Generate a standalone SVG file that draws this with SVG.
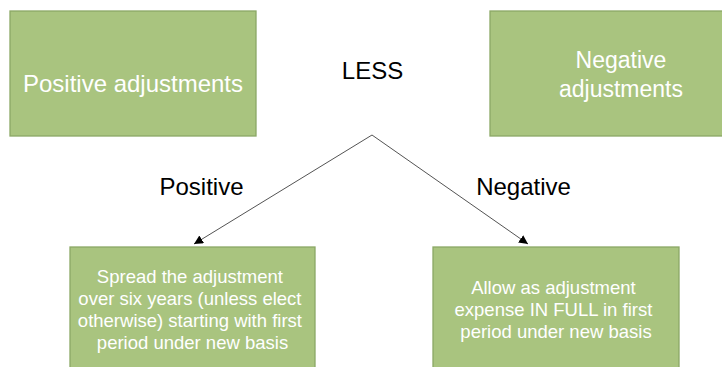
<svg xmlns="http://www.w3.org/2000/svg" width="722" height="367" viewBox="0 0 722 367">
  <style>
    .box { fill: #A9C47F; stroke: #8BA866; stroke-width: 1.3; }
    .boxtext { font-family: "Liberation Sans", Arial, sans-serif; fill: #FFFFFF; text-anchor: middle; }
    .label { font-family: "Liberation Sans", Arial, sans-serif; fill: #000000; text-anchor: middle; font-size: 24px; }
    .conn { fill: none; stroke: #404040; stroke-width: 0.9; }
  </style>
  <defs>
    <marker id="arrow" viewBox="0 0 10 10" refX="10" refY="5" markerWidth="9" markerHeight="9" markerUnits="userSpaceOnUse" orient="auto">
      <path d="M0,0 L10,5 L0,10 Z" fill="#000000"/>
    </marker>
  </defs>
  <rect width="722" height="367" fill="#FFFFFF"/>

  <g id="positive-adjustments">
    <rect class="box" x="10" y="11" width="246" height="125"/>
    <text class="boxtext" x="133" y="92" font-size="24">Positive adjustments</text>
  </g>

  <g id="negative-adjustments">
    <rect class="box" x="490" y="11" width="246" height="125"/>
    <text class="boxtext" x="621" y="68" font-size="23">Negative</text>
    <text class="boxtext" x="621" y="97" font-size="23">adjustments</text>
  </g>

  <g id="less">
    <text class="label" x="372.5" y="79">LESS</text>
  </g>

  <g id="connectors">
    <path class="conn" d="M372,135 L194,244" marker-end="url(#arrow)"/>
    <path class="conn" d="M372,135 L528,244" marker-end="url(#arrow)"/>
    <text class="label" x="201.5" y="195">Positive</text>
    <text class="label" x="523.5" y="195">Negative</text>
  </g>

  <g id="spread-adjustment">
    <rect class="box" x="70" y="247" width="245" height="130"/>
    <text class="boxtext" font-size="18.5">
      <tspan x="192.5" y="283">Spread the adjustment</tspan>
      <tspan x="192.5" y="305">over six years (unless elect</tspan>
      <tspan x="192.5" y="327">otherwise) starting with first</tspan>
      <tspan x="192.5" y="349">period under new basis</tspan>
    </text>
  </g>

  <g id="allow-in-full">
    <rect class="box" x="433" y="247" width="246" height="130"/>
    <text class="boxtext" font-size="18.5">
      <tspan x="556" y="294">Allow as adjustment</tspan>
      <tspan x="556" y="316">expense IN FULL in first</tspan>
      <tspan x="556" y="338">period under new basis</tspan>
    </text>
  </g>
</svg>
